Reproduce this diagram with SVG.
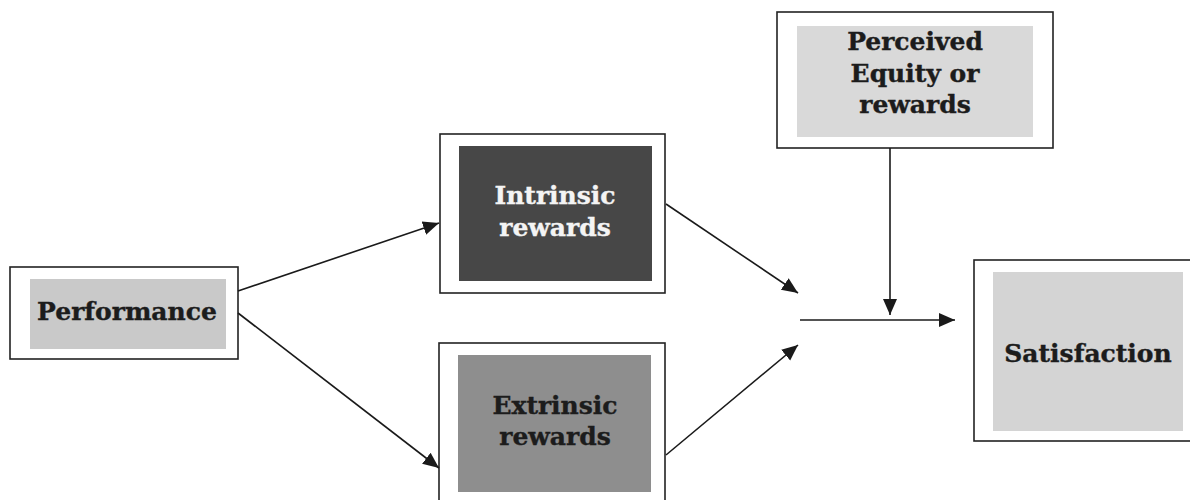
<svg xmlns="http://www.w3.org/2000/svg" width="1190" height="500" viewBox="0 0 1190 500">
  <defs>
    <marker id="ah" markerUnits="userSpaceOnUse" markerWidth="18" markerHeight="18" viewBox="0 0 18 18" refX="16" refY="9" orient="auto">
      <path d="M0,2 L16,9 L0,16 Z" fill="#1a1a1a"/>
    </marker>
  </defs>
  <style>
    .outer { fill: #ffffff; stroke: #222222; stroke-width: 1.6; }
    .lbl { font-family: "DejaVu Serif", "Liberation Serif", serif; font-weight: bold; font-size: 25px; text-anchor: middle; fill: #1c1c1c; stroke: #1c1c1c; stroke-width: 0.4; }
    .white { fill: #f4f4f4; stroke: #f4f4f4; }
    .conn { stroke: #1a1a1a; stroke-width: 1.6; fill: none; marker-end: url(#ah); }
  </style>
  <rect x="0" y="0" width="1190" height="500" fill="#ffffff"/>

  <g id="performance">
    <rect class="outer" x="10" y="267" width="228" height="92"/>
    <rect x="30" y="279" width="196" height="70" fill="#c9c9c9"/>
    <text class="lbl" x="127" y="320">Performance</text>
  </g>

  <g id="intrinsic">
    <rect class="outer" x="440" y="134" width="225" height="159"/>
    <rect x="459" y="146" width="193" height="135" fill="#474747"/>
    <text class="lbl white" x="555" y="204">Intrinsic</text>
    <text class="lbl white" x="555" y="236">rewards</text>
  </g>

  <g id="extrinsic">
    <rect class="outer" x="439" y="343" width="226" height="160"/>
    <rect x="458" y="355" width="193" height="137" fill="#8e8e8e"/>
    <text class="lbl" x="555" y="414">Extrinsic</text>
    <text class="lbl" x="555" y="445">rewards</text>
  </g>

  <g id="perceived">
    <rect class="outer" x="777" y="12" width="276" height="136"/>
    <rect x="797" y="26" width="236" height="111" fill="#d9d9d9"/>
    <text class="lbl" x="915" y="50">Perceived</text>
    <text class="lbl" x="915" y="82">Equity or</text>
    <text class="lbl" x="915" y="113">rewards</text>
  </g>

  <g id="satisfaction">
    <rect class="outer" x="974" y="260" width="230" height="181"/>
    <rect x="993" y="272" width="190" height="159" fill="#d4d4d4"/>
    <text class="lbl" x="1088" y="362">Satisfaction</text>
  </g>

  <g id="connectors">
    <line class="conn" x1="238" y1="291" x2="439" y2="223"/>
    <line class="conn" x1="238" y1="313" x2="439" y2="468"/>
    <line class="conn" x1="666" y1="204" x2="798" y2="293"/>
    <line class="conn" x1="666" y1="455" x2="798" y2="345"/>
    <line class="conn" x1="800" y1="320" x2="955" y2="320"/>
    <line class="conn" x1="890" y1="148" x2="890" y2="315"/>
  </g>
</svg>
